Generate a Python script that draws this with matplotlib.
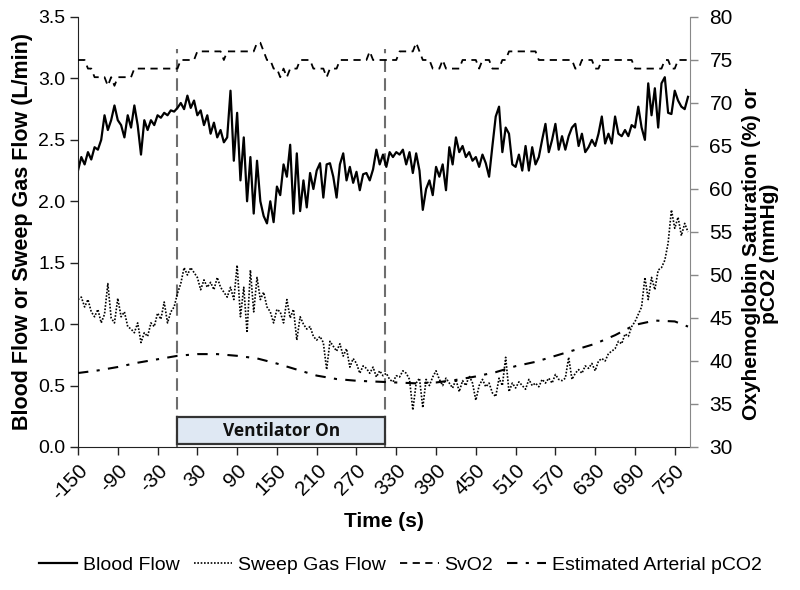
import numpy as np
import matplotlib
matplotlib.use("Agg")
import matplotlib.pyplot as plt
from matplotlib.patches import Rectangle
from matplotlib import font_manager

names = {f.name for f in font_manager.fontManager.ttflist}
NARROW = "Liberation Sans Narrow" if "Liberation Sans Narrow" in names else "Liberation Sans"
plt.rcParams['font.family'] = ['Liberation Sans', 'DejaVu Sans']

# ---------------- data ----------------
t_start, t_step = -150, 5   # samples every 5 s

blood_flow = [
    2.25, 2.36, 2.30, 2.40, 2.34, 2.44, 2.42, 2.50, 2.70, 2.58, 2.66, 2.78,   # -150..-95
    2.66, 2.62, 2.52, 2.70, 2.60, 2.78, 2.62, 2.38, 2.66, 2.58, 2.66, 2.62,   # -90..-35
    2.70, 2.68, 2.72, 2.70, 2.74, 2.73, 2.76, 2.80, 2.75, 2.86, 2.76, 2.82,   # -30..25
    2.70, 2.74, 2.62, 2.70, 2.55, 2.64, 2.52, 2.58, 2.48, 2.52, 2.90, 2.33,   # 30..85
    2.72, 2.17, 2.52, 2.00, 2.36, 1.90, 2.33, 2.00, 1.88, 1.82, 2.00, 1.83,   # 90..145
    2.12, 2.05, 2.30, 2.20, 2.46, 1.90, 2.39, 1.92, 2.17, 1.95, 2.23, 2.10,   # 150..205
    2.25, 2.31, 2.03, 2.30, 2.31, 2.20, 2.03, 2.30, 2.39, 2.17, 2.28, 2.15,   # 210..265
    2.24, 2.09, 2.22, 2.23, 2.17, 2.26, 2.42, 2.30, 2.38, 2.28, 2.40, 2.36,   # 270..325
    2.40, 2.38, 2.42, 2.30, 2.40, 2.23, 2.39, 2.25, 1.93, 2.10, 2.17, 2.05,   # 330..385
    2.28, 2.20, 2.30, 2.09, 2.44, 2.30, 2.52, 2.40, 2.45, 2.36, 2.40, 2.33,   # 390..445
    2.36, 2.28, 2.38, 2.31, 2.20, 2.45, 2.69, 2.77, 2.40, 2.60, 2.55, 2.30,   # 450..505
    2.28, 2.38, 2.25, 2.45, 2.25, 2.44, 2.30, 2.36, 2.50, 2.63, 2.40, 2.50,   # 510..565
    2.63, 2.42, 2.53, 2.42, 2.53, 2.60, 2.63, 2.45, 2.55, 2.40, 2.44, 2.50,   # 570..625
    2.45, 2.55, 2.69, 2.47, 2.55, 2.47, 2.69, 2.55, 2.53, 2.58, 2.53, 2.62,   # 630..685
    2.60, 2.77, 2.60, 2.50, 2.96, 2.70, 2.92, 2.60, 2.96, 3.01, 2.72, 2.71,   # 690..745
    2.90, 2.82, 2.77, 2.75, 2.85,                                             # 750..770
]

sweep_gas_flow = [
    1.20, 1.22, 1.14, 1.20, 1.10, 1.06, 1.12, 1.01, 1.08, 1.33, 1.05, 1.01,   # -150..-95
    1.21, 1.06, 1.10, 0.98, 0.96, 0.93, 1.01, 0.85, 0.93, 0.90, 1.01, 0.98,   # -90..-35
    1.09, 1.04, 1.18, 1.01, 1.10, 1.14, 1.25, 1.33, 1.46, 1.40, 1.46, 1.42,   # -30..25
    1.38, 1.28, 1.36, 1.30, 1.34, 1.28, 1.38, 1.30, 1.26, 1.22, 1.30, 1.20,   # 30..85
    1.48, 1.06, 1.30, 0.93, 1.44, 1.10, 1.38, 1.20, 1.26, 1.14, 1.10, 1.01,   # 90..145
    1.12, 1.10, 1.01, 1.20, 1.05, 1.12, 0.87, 1.06, 1.00, 0.96, 0.98, 0.90,   # 150..205
    0.87, 0.90, 0.85, 0.63, 0.86, 0.82, 0.78, 0.84, 0.74, 0.80, 0.65, 0.72,   # 210..265
    0.68, 0.60, 0.66, 0.64, 0.60, 0.65, 0.57, 0.62, 0.58, 0.60, 0.55, 0.53,   # 270..325
    0.58, 0.57, 0.62, 0.60, 0.55, 0.30, 0.52, 0.56, 0.32, 0.55, 0.50, 0.57,   # 330..385
    0.62, 0.55, 0.50, 0.56, 0.52, 0.48, 0.55, 0.45, 0.54, 0.50, 0.58, 0.52,   # 390..445
    0.38, 0.50, 0.55, 0.49, 0.52, 0.44, 0.41, 0.56, 0.50, 0.73, 0.45, 0.52,   # 450..505
    0.48, 0.53, 0.50, 0.47, 0.55, 0.50, 0.52, 0.49, 0.55, 0.52, 0.56, 0.52,   # 510..565
    0.59, 0.55, 0.54, 0.56, 0.73, 0.55, 0.60, 0.63, 0.60, 0.66, 0.64, 0.68,   # 570..625
    0.62, 0.70, 0.72, 0.70, 0.76, 0.78, 0.80, 0.86, 0.84, 0.92, 0.90, 0.98,   # 630..685
    1.02, 1.08, 1.14, 1.38, 1.20, 1.38, 1.28, 1.44, 1.46, 1.52, 1.66, 1.93,   # 690..745
    1.78, 1.87, 1.72, 1.82, 1.75,                                             # 750..770
]

svo2 = [
    75, 75, 75, 74, 74, 73, 73, 73, 73, 72, 73, 72,   # -150..-95
    73, 73, 73, 73, 73, 74, 74, 74, 74, 74, 74, 74,   # -90..-35
    74, 74, 74, 74, 74, 74, 74, 75, 75, 75, 75, 75,   # -30..25
    76, 76, 76, 76, 76, 76, 76, 76, 75, 76, 76, 76,   # 30..85
    76, 76, 76, 76, 76, 76, 77, 77, 76, 75, 75, 74,   # 90..145
    74, 73, 74, 73, 74, 74, 74, 75, 75, 75, 75, 74,   # 150..205
    74, 74, 74, 73, 74, 74, 74, 75, 75, 75, 75, 75,   # 210..265
    75, 75, 75, 75, 76, 75, 75, 75, 75, 75, 75, 75,   # 270..325
    75, 76, 76, 76, 76, 76, 77, 76, 75, 75, 75, 74,   # 330..385
    74, 74, 75, 74, 74, 74, 74, 74, 75, 75, 75, 75,   # 390..445
    75, 74, 75, 75, 75, 74, 74, 74, 75, 75, 76, 76,   # 450..505
    76, 76, 76, 76, 76, 76, 76, 75, 75, 75, 75, 75,   # 510..565
    75, 75, 75, 75, 75, 75, 74, 74, 75, 75, 75, 75,   # 570..625
    74, 74, 75, 75, 75, 75, 75, 75, 75, 75, 75, 75,   # 630..685
    74, 74, 74, 74, 74, 74, 74, 74, 74, 75, 75, 74,   # 690..745
    74, 75, 75, 75, 75,                               # 750..770
]

pco2_time = [-150, -120, -90, -60, -30, 0, 30, 60, 90, 120, 150, 180, 210, 240,
             270, 300, 330, 360, 390, 420, 450, 480, 510, 540, 570, 600, 630,
             660, 690, 720, 750, 770]
pco2 = [38.6, 38.9, 39.3, 39.8, 40.2, 40.6, 40.8, 40.8, 40.6, 40.3, 39.7, 39.0,
        38.3, 37.9, 37.7, 37.6, 37.5, 37.4, 37.5, 37.8, 38.2, 38.7, 39.4, 39.9,
        40.6, 41.3, 42.0, 43.0, 44.2, 44.7, 44.6, 44.0]

vent_on, vent_off = 0, 313
x_ticks = list(range(-150, 751, 60))

n = len(blood_flow)
assert len(sweep_gas_flow) == n and len(svo2) == n
time = t_start + t_step * np.arange(n)

# ---------------- figure ----------------
fig = plt.figure(figsize=(8, 5.9), dpi=100)
ax = fig.add_axes([0.0975, 0.2424, 0.765, 0.7288])
ax2 = ax.twinx()

l1, = ax.plot(time, blood_flow, color='black', lw=1.6, label='Blood Flow')
l2, = ax.plot(time, sweep_gas_flow, color='black', lw=1.2, ls=(0, (1, 1)),
              label='Sweep Gas Flow')
l3, = ax2.plot(time, svo2, color='black', lw=1.3, ls=(0, (4, 3)), label='SvO2')
l4, = ax2.plot(pco2_time, pco2, color='black', lw=1.5, ls=(0, (5, 4, 1.5, 4)),
               label='Estimated Arterial pCO2')

for tv in (vent_on, vent_off):
    ax.plot([tv, tv], [0, 3.24], color='#6e6e6e', lw=1.5, ls=(0, (6, 3)), zorder=1)

box = Rectangle((vent_on, 0.025), vent_off - vent_on, 0.215, facecolor='#dfe8f3',
                edgecolor='#333333', lw=1.6, zorder=3)
ax.add_patch(box)
ax.text((vent_on + vent_off) / 2, 0.13, 'Ventilator On', ha='center', va='center',
        fontsize=12.5, fontweight='bold', family=['Open Sans', 'DejaVu Sans'], zorder=4,
        color='#111111')

ax.set_xlim(-150, 773)
ax.set_ylim(0, 3.5)
ax2.set_ylim(30, 80)
ax.set_yticks(np.arange(0, 3.51, 0.5))
ax.set_yticklabels([f'{v:.1f}' for v in np.arange(0, 3.51, 0.5)])
ax2.set_yticks(range(30, 81, 5))
ax.set_xticks(x_ticks)
ax.set_xticklabels([str(v) for v in x_ticks], rotation=45, ha='right',
                   rotation_mode='anchor', family=[NARROW, 'DejaVu Sans'], fontsize=15)

for a in (ax, ax2):
    a.spines['top'].set_visible(False)
ax2.spines['left'].set_visible(False)
ax2.spines['bottom'].set_visible(False)
ax.spines['right'].set_visible(False)
ax.spines['left'].set_color('#222222')
ax.spines['bottom'].set_color('#222222')
ax2.spines['right'].set_color('#888888')
ax.tick_params(axis='y', labelsize=14, length=6, width=1, direction='out', pad=3,
               color='#222222')
ax.tick_params(axis='x', length=6, width=1, direction='out', pad=4, color='#222222')
ax2.tick_params(axis='y', labelsize=15, length=6, width=1, direction='out', pad=8,
                color='#888888')

ax.set_ylabel('Blood Flow or Sweep Gas Flow (L/min)', fontsize=15.5, fontweight='bold',
              labelpad=4)
ax2.set_ylabel('Oxyhemoglobin Saturation (%) or\npCO2 (mmHg)', fontsize=15,
               fontweight='bold', linespacing=0.95)
ax2.yaxis.set_label_coords(1.085, 0.45)
ax.set_xlabel('Time (s)', fontsize=15, fontweight='bold',
              family=[NARROW, 'DejaVu Sans'], labelpad=6)

leg = fig.legend(handles=[l1, l2, l3, l4], loc='center', bbox_to_anchor=(0.5, 0.042),
                 ncol=4, frameon=False, handlelength=2.0,
                 handletextpad=0.3, columnspacing=0.7,
                 prop={'family': [NARROW, 'DejaVu Sans'], 'size': 14})

fig.savefig('out.png', dpi=100)
